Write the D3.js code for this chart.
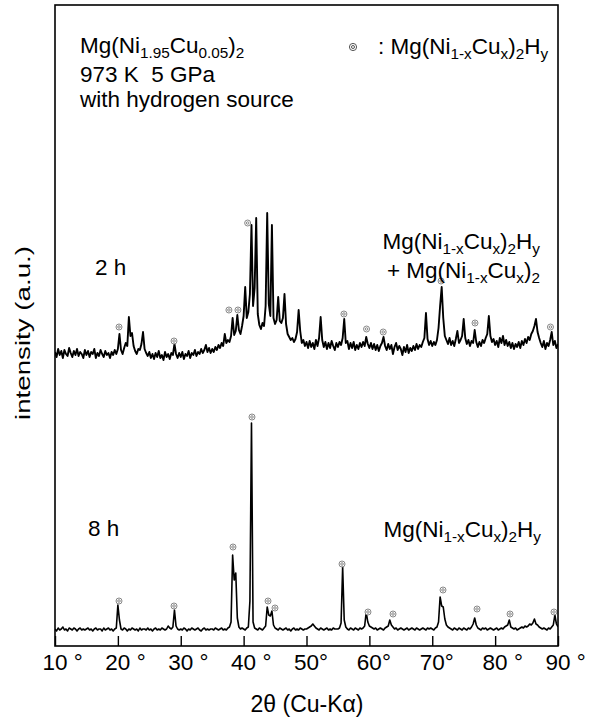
<!DOCTYPE html>
<html>
<head>
<meta charset="utf-8">
<script src="https://cdn.jsdelivr.net/npm/d3@7"></script>
<style>
  body { margin: 0; background: #fff; }
  svg text { font-family: "Liberation Sans", Arial, Helvetica, sans-serif; fill: #000; }
</style>
</head>
<body>
<svg id="chart" width="589" height="723"></svg>
<script>
// XRD scans, 2θ from 10° to 90° in 0.25° steps (intensity in a.u.)
const scanStart = 10;
const scanStep = 0.25;

// 8 h run
const intensity8h = [
  17,15,18,16,17,19,16,17,15,18,17,16,18,17,15,17,18,16,17,16,
  17,18,16,17,15,17,18,16,17,17,15,18,16,17,18,16,17,15,17,18,
  41,26,17,16,18,17,15,17,16,18,17,16,17,15,18,16,17,17,16,18,
  16,17,15,17,18,16,17,16,18,17,16,17,20,18,17,19,36,20,17,16,
  17,16,18,17,15,17,16,18,17,16,17,18,16,15,17,18,16,17,16,17,
  17,16,18,17,16,17,18,16,17,16,18,19,24,91,66,73,28,19,17,18,
  17,16,18,19,45,223,24,18,17,16,18,17,16,18,20,39,31,30,35,21,
  18,17,16,18,17,16,17,18,16,17,15,17,18,16,17,16,18,17,16,17,
  17,18,19,20,22,20,18,17,16,18,17,16,17,18,16,17,16,18,17,17,
  17,18,23,79,26,19,17,16,18,17,16,18,17,16,18,17,18,20,34,24,
  20,19,18,17,18,16,17,18,17,16,18,19,20,26,21,19,17,18,16,17,
  18,17,16,17,18,16,17,18,17,16,18,17,16,17,18,17,16,18,17,18,
  17,16,18,19,24,49,40,39,27,21,19,18,17,16,18,17,16,18,17,16,
  18,17,16,18,17,19,22,28,21,18,17,16,18,17,18,16,17,18,17,16,
  17,18,16,17,18,17,19,20,21,26,19,18,17,18,16,17,18,19,18,20,
  19,20,22,21,23,27,22,21,19,18,17,18,17,16,18,17,19,21,31,22,
  19
];

// 2 h run (drawn above the 8 h run with a vertical offset)
const intensity2h = [
  24,19,27,21,25,18,26,22,20,28,23,19,25,21,27,20,24,22,18,26,
  21,25,19,24,22,27,18,23,20,26,22,19,25,21,23,18,24,21,26,22,
  27,42,26,22,28,33,30,59,40,43,30,25,22,27,26,32,44,27,23,20,
  24,18,22,17,23,19,25,18,21,16,24,19,22,17,23,21,32,22,18,23,
  19,24,17,22,20,25,18,23,21,26,20,24,22,27,23,26,31,24,28,23,
  27,24,29,26,31,28,33,30,42,33,36,34,40,58,41,45,61,46,42,50,
  60,89,58,64,82,151,70,88,158,62,51,47,53,50,70,163,72,60,151,58,
  52,56,79,55,53,58,82,52,42,39,36,38,34,37,44,66,45,33,36,30,
  34,28,35,29,33,27,36,30,38,59,36,29,34,27,33,28,35,30,26,33,
  29,34,31,38,57,33,35,27,33,28,34,26,31,27,33,29,34,30,39,32,
  28,33,27,32,26,31,25,30,33,39,30,26,32,27,31,22,29,33,26,30,
  27,21,29,24,31,23,28,25,30,26,32,27,31,29,34,38,63,37,31,35,
  30,34,31,36,48,70,89,58,40,36,32,38,31,35,30,37,45,33,36,40,
  57,38,32,36,30,35,33,46,34,29,34,30,36,33,38,42,60,40,34,37,
  31,35,29,38,33,40,31,36,30,34,28,33,27,32,29,34,28,35,31,37,
  33,39,36,42,45,50,57,44,38,33,29,35,27,33,30,36,44,31,35,28,
  32
];
const offset2h = 270;

// Mg(Ni1-xCux)2Hy reflections: [2θ, intensity]
const hydride8h = [[20.18,45],[28.93,40],[38.31,99],[41.33,229],[43.88,45],[44.99,38],
  [55.65,82],[59.78,34],[63.76,32],[71.71,56],[77.12,37],[82.37,32],[89.36,34]];
const hydride2h = [[20.18,49],[28.93,35],[37.66,66],[39.1,66],[40.64,153],[55.95,62],
  [59.55,47],[62.2,44],[71.4,95],[76.8,53],[88.8,49]];

const xTicks = [10, 20, 30, 40, 50, 60, 70, 80, 90];
const xTickLabels = ["10 °", "20 °", "30 °", "40 °", "50°", "60°", "70°", "80 °", "90 °"];

const plot = { left: 55, right: 558, top: 5, bottom: 646 };
const FS = 22.5;

const svg = d3.select("#chart");
const x = d3.scaleLinear().domain([10, 90]).range([plot.left, plot.right]);
const y = d3.scaleLinear().domain([0, 641]).range([plot.bottom, plot.top]);

svg.append("defs").append("clipPath").attr("id", "plotClip")
  .append("rect").attr("x", plot.left).attr("y", plot.top)
  .attr("width", plot.right - plot.left).attr("height", plot.bottom - plot.top);

const toPoints = (arr, off) => arr.map((v, i) => [scanStart + i * scanStep, v + off]);
const line = d3.line().x(d => x(d[0])).y(d => y(d[1]));

const traces = svg.append("g").attr("clip-path", "url(#plotClip)");
traces.append("path").datum(toPoints(intensity8h, 0))
  .attr("d", line).attr("fill", "none").attr("stroke", "#000")
  .attr("stroke-width", 1.6).attr("stroke-linejoin", "round");
traces.append("path").datum(toPoints(intensity2h, offset2h))
  .attr("d", line).attr("fill", "none").attr("stroke", "#000")
  .attr("stroke-width", 1.9).attr("stroke-linejoin", "round");

// double-circle phase markers
function marker(g, cx, cy, r, color, sw) {
  g.append("circle").attr("cx", cx).attr("cy", cy).attr("r", r)
    .attr("fill", "#fff").attr("stroke", color).attr("stroke-width", sw);
  g.append("circle").attr("cx", cx).attr("cy", cy).attr("r", r * 0.42)
    .attr("fill", "none").attr("stroke", color).attr("stroke-width", sw);
}
const mk = svg.append("g");
hydride8h.forEach(d => marker(mk, x(d[0]), y(d[1]), 3, "#888", 1));
hydride2h.forEach(d => marker(mk, x(d[0]), y(d[1] + offset2h), 3, "#888", 1));

// frame and inward ticks
svg.append("rect").attr("x", plot.left).attr("y", plot.top)
  .attr("width", plot.right - plot.left).attr("height", plot.bottom - plot.top)
  .attr("fill", "none").attr("stroke", "#000").attr("stroke-width", 1.6);

const axis = svg.append("g").attr("transform", `translate(0,${plot.bottom})`)
  .call(d3.axisBottom(x).tickValues(xTicks).tickSizeInner(-10).tickSizeOuter(0).tickFormat(""));
axis.select(".domain").remove();
axis.selectAll(".tick line").attr("stroke", "#000").attr("stroke-width", 1.4);

// tick labels: number centred on its tick, degree sign following
xTicks.forEach((t, i) => {
  const lab = xTickLabels[i];
  const num = lab.replace(/[^0-9]/g, "");
  const txt = svg.append("text").attr("y", 670).attr("font-size", FS)
    .style("white-space", "pre").text(lab);
  const nw = txt.node().getSubStringLength(0, num.length);
  txt.attr("x", x(t) - nw / 2);
});

// rich text with subscripts: parts are strings or [subscript]
function rich(x0, y0, parts, size, anchor) {
  const t = svg.append("text").attr("x", x0).attr("y", y0)
    .attr("font-size", size).attr("text-anchor", anchor || "start")
    .style("white-space", "pre");
  let lvl = 0;
  parts.forEach(p => {
    const sub = Array.isArray(p);
    const s = t.append("tspan").text(sub ? p[0] : p);
    if (sub) s.attr("font-size", size * 0.68);
    const shift = sub ? size * 0.2 : 0;
    s.attr("dy", shift - lvl);
    lvl = shift;
  });
  return t;
}

rich(80, 53, ["Mg(Ni", ["1.95"], "Cu", ["0.05"], ")", ["2"]], FS);
rich(80, 82, ["973 K  5 GPa"], FS);
rich(80, 107, ["with hydrogen source"], FS);

marker(svg, 353, 47, 3.6, "#555", 1);
rich(378, 54, [": Mg(Ni", ["1-x"], "Cu", ["x"], ")", ["2"], "H", ["y"]], FS);

svg.append("text").attr("x", 95).attr("y", 275).attr("font-size", FS).text("2 h");
svg.append("text").attr("x", 88).attr("y", 536).attr("font-size", FS).text("8 h");

rich(540, 249, ["Mg(Ni", ["1-x"], "Cu", ["x"], ")", ["2"], "H", ["y"]], FS, "end");
rich(540, 278, ["+ Mg(Ni", ["1-x"], "Cu", ["x"], ")", ["2"]], FS, "end");
rich(541, 537, ["Mg(Ni", ["1-x"], "Cu", ["x"], ")", ["2"], "H", ["y"]], FS, "end");

svg.append("text").attr("x", 307).attr("y", 712)
  .attr("font-size", 23).attr("text-anchor", "middle").text("2θ (Cu-Kα)");
svg.append("text").attr("transform", "translate(30,333) rotate(-90)")
  .attr("font-size", 21).attr("text-anchor", "middle")
  .attr("textLength", 174).attr("lengthAdjust", "spacingAndGlyphs")
  .text("intensity (a.u.)");
</script>
</body>
</html>
